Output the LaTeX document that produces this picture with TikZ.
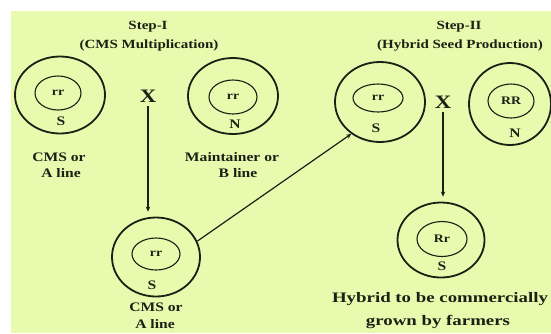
\documentclass[tikz,border=0pt]{standalone}
\usepackage{fontspec}
\setmainfont{Liberation Serif}[FakeStretch=1.2]
\newfontfamily\widefont{Liberation Serif}[FakeStretch=1.3]
\usetikzlibrary{shapes.geometric,arrows.meta}
\definecolor{leaf}{RGB}{231,250,174}
\definecolor{ink}{RGB}{28,32,20}

\tikzset{
  ring/.style 2 args={ellipse,draw=ink,line width=1.8pt,inner sep=0pt,
    minimum width=#1,minimum height=#2},
  core/.style 2 args={ellipse,draw=ink,line width=1.1pt,inner sep=0pt,
    minimum width=#1,minimum height=#2,text=ink,
    font=\fontsize{11.5}{13}\selectfont\bfseries},
  cyto/.style={inner sep=0pt,text=ink,font=\fontsize{13}{15}\selectfont\bfseries},
  caption/.style={inner sep=0pt,anchor=base,text=ink,
    font=\fontsize{13}{15}\selectfont\bfseries},
  title/.style={inner sep=0pt,anchor=base,text=ink,
    font=\fontsize{12.5}{14}\selectfont\bfseries},
  result/.style={inner sep=0pt,anchor=base,text=ink,
    font=\widefont\fontsize{14.5}{16}\selectfont\bfseries},
  cross/.style={inner sep=1pt,text=ink,font=\fontsize{19}{21}\selectfont\bfseries},
  flow/.style={draw=ink,line width=1.2pt,-{Stealth[length=5pt,width=4.5pt]}}
}

\begin{document}
\begin{tikzpicture}[x=1pt,y=-1pt]
  % page and panel
  \fill[white] (0,0) rectangle (551,333);
  \fill[leaf] (11,11) rectangle (551,333);
  \useasboundingbox (0,0) rectangle (551,333);

  % Step I header
  \node[title] (h1) at (148,29) {Step-I};
  \node[title] (h1b) at (149,48) {(CMS Multiplication)};

  % Step II header
  \node[title] (h2) at (459,29) {Step-II};
  \node[title] (h2b) at (460,48) {(Hybrid Seed Production)};

  % CMS (A) line, step I
  \node[ring={90pt}{77pt}] (A) at (60,95) {};
  \node[core={46pt}{34pt}] (Ai) at (58,93) {rr};
  \node[cyto] (As) at (61,121) {S};
  \node[caption] (Al1) at (59,161) {CMS or};
  \node[caption] (Al2) at (61,177) {A line};

  \node[cross] (X1) at (148,96) {X};

  % maintainer (B) line
  \node[ring={90pt}{76pt}] (B) at (233,96) {};
  \node[core={48pt}{34pt}] (Bi) at (233,97) {rr};
  \node[cyto] (Bn) at (235,124) {N};
  \node[caption] (Bl1) at (232,161) {Maintainer or};
  \node[caption] (Bl2) at (238,177) {B line};

  % multiplied CMS line
  \node[ring={88pt}{79pt}] (C) at (156,257) {};
  \node[core={48pt}{32pt}] (Ci) at (156,254) {rr};
  \node[cyto] (Cs) at (152,285) {S};
  \node[caption] (Cl1) at (156,311) {CMS or};
  \node[caption] (Cl2) at (155,328) {A line};

  % Step II parents
  \node[ring={90pt}{80pt}] (D) at (380,102) {};
  \node[core={50pt}{28pt}] (Di) at (378,98) {rr};
  \node[cyto] (Ds) at (376,128) {S};

  \node[cross] (X2) at (443,102) {X};

  \node[ring={82pt}{82pt}] (E) at (510,104) {};
  \node[core={46pt}{34pt}] (Ei) at (511,101) {RR};
  \node[cyto] (En) at (515,133) {N};

  % hybrid
  \node[ring={87pt}{75pt}] (F) at (441,240) {};
  \node[core={50pt}{35pt}] (Fi) at (442,239) {Rr};
  \node[cyto] (Fs) at (442,266) {S};
  \node[result] (Fl1) at (440,302) {Hybrid to be commercially};
  \node[result] (Fl2) at (438,325) {grown by farmers};

  % connectors: straight down from each cross, and the A line carried over
  \draw[flow,shorten <=3pt,shorten >=5pt] (X1.south) -- (X1.south |- C.north);
  \draw[flow] (C.21) -- (D.228);
  \draw[flow,shorten <=3pt,shorten >=5pt] (X2.south) -- (X2.south |- F.north);
\end{tikzpicture}
\end{document}
